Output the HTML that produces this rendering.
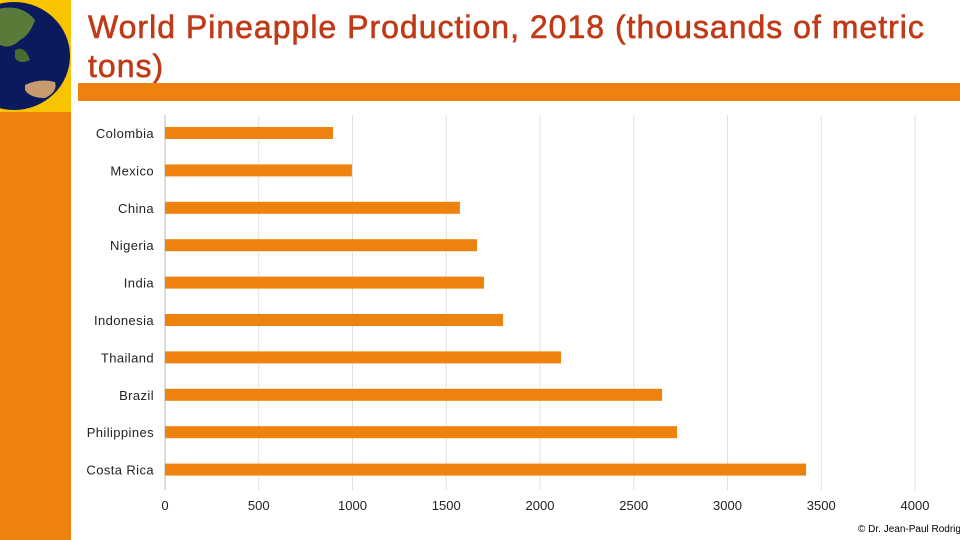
<!DOCTYPE html>
<html><head><meta charset="utf-8"><style>
body{margin:0;width:960px;height:540px;overflow:hidden;background:#fff;font-family:"Liberation Sans",sans-serif;position:relative}
.abs{position:absolute}
</style></head><body>
<div class="abs" style="left:0;top:0;width:71px;height:112px;background:#f8c400;overflow:hidden">
<svg width="71" height="112"><ellipse cx="14" cy="56" rx="56" ry="54" fill="#0a1a5c"/><path d="M-5 10 Q20 2 35 20 Q30 35 20 40 Q10 50 0 45Z" fill="#5a7a3a"/><path d="M25 85 Q40 78 55 82 Q58 92 45 98 Q30 98 25 90Z" fill="#c89a70"/><path d="M15 50 Q25 45 30 60 Q20 65 15 58Z" fill="#4a6a30"/></svg>
</div>
<div class="abs" style="left:0;top:112px;width:71px;height:428px;background:#ee820e"></div>
<div class="abs" style="left:88px;top:8px;width:860px;font-size:32px;letter-spacing:1px;-webkit-text-stroke:0.6px #c03a17;line-height:39px;color:#c03a17">World Pineapple Production, 2018 (thousands of metric tons)</div>
<div class="abs" style="left:78px;top:83px;width:882px;height:18px;background:#ee820e"></div>
<svg class="abs" style="left:0;top:0" width="960" height="540" id="chart"></svg>
<div class="abs" style="left:858px;top:524px;font-size:10px;color:#000;white-space:nowrap">© Dr. Jean-Paul Rodrigue</div>
<script>
const categories=["Colombia","Mexico","China","Nigeria","India","Indonesia","Thailand","Brazil","Philippines","Costa Rica"];
const values=[896,997,1573,1664,1701,1803,2112,2651,2731,3419];
const ticks=[0,500,1000,1500,2000,2500,3000,3500,4000];
const svg=document.getElementById('chart');
const NS='http://www.w3.org/2000/svg';
const x=v=>165+v*750/4000;
const y=i=>133+i*37.4;
function mk(t,a){const e=document.createElementNS(NS,t);for(const k in a)e.setAttribute(k,a[k]);svg.appendChild(e);return e;}
ticks.forEach(t=>{
const g=mk('line',{x1:x(t),x2:x(t),y1:115,y2:490,stroke:t===0?'#bbb':'#e0e0e0','stroke-width':1});


const l=mk('text',{x:x(t),y:510,'text-anchor':'middle','font-size':13,fill:'#222'});
l.textContent=t;


});
categories.forEach((c,i)=>{
const b=mk('rect',{x:x(0),y:y(i)-6,width:x(values[i])-x(0),height:12,fill:'#ee820e'});


const l=mk('text',{x:154,y:y(i)+5,'text-anchor':'end','font-size':13,fill:'#222','letter-spacing':'0.4'});
l.textContent=c;


});
</script>
</body></html>
